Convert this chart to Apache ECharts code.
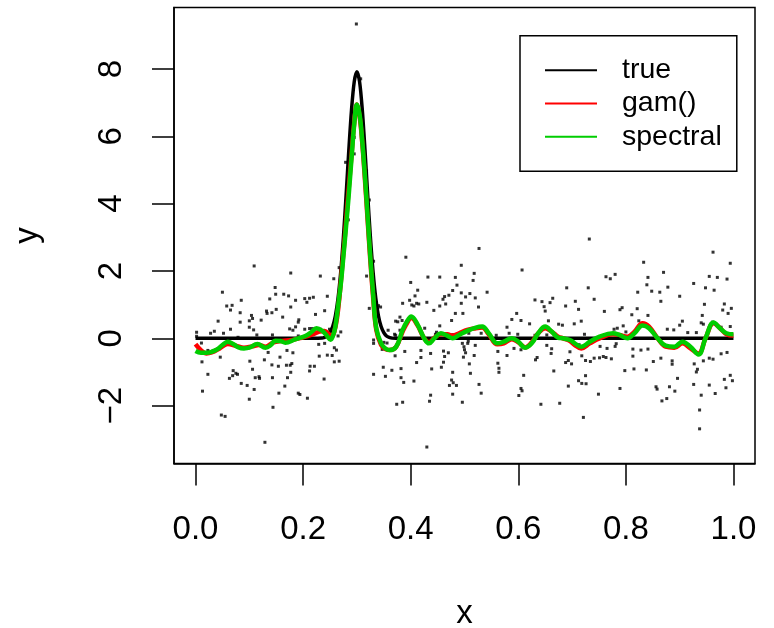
<!DOCTYPE html>
<html><head><meta charset="utf-8">
<script src="https://cdn.jsdelivr.net/npm/echarts@6/dist/echarts.min.js"></script>
<style>html,body{margin:0;padding:0;background:#fff}#c{width:774px;height:628px}</style>
</head><body><div id="c"></div>
<script>
const xTicks = [0, 0.2, 0.4, 0.6, 0.8, 1.0];
const yTicks = [-2, 0, 2, 4, 6, 8];
const seriesNames = ['true', 'gam()', 'spectral'];

const obsX = [
0.299,0.307,0.301,0.295,0.295,0.279,0.318,0.323,0.284,0.109,0.177,0.267,0.232,0.257,0.318,0.331,0.050,0.148,0.164,0.173,
0.058,0.068,0.065,0.085,0.138,0.149,0.203,0.212,0.219,0.207,0.245,0.186,0.177,0.083,0.132,0.142,0.150,0.133,0.104,0.106,
0.162,0.042,0.083,0.100,0.122,0.192,0.191,0.223,0.240,0.323,0.065,0.100,0.108,0.175,0.181,0.186,0.203,0.212,0.217,0.249,
0.232,0.028,0.035,0.052,0.002,0.114,0.079,0.143,0.191,0.270,0.265,0.002,0.011,0.229,0.240,0.331,0.331,0.023,0.046,0.135,
0.181,0.170,0.258,0.262,0.012,0.101,0.128,0.179,0.176,0.157,0.230,0.245,0.254,0.267,0.258,0.142,0.154,0.169,0.213,0.221,
0.106,0.070,0.075,0.078,0.069,0.212,0.023,0.177,0.063,0.111,0.118,0.119,0.143,0.171,0.239,0.085,0.096,0.166,0.109,0.013,
0.155,0.191,0.194,0.100,0.208,0.144,0.048,0.055,0.129,0.331,
0.391,0.527,0.494,0.607,0.518,0.432,0.454,0.483,0.400,0.516,0.486,0.413,0.408,0.398,0.402,0.406,0.411,0.415,0.478,0.471,
0.463,0.510,0.502,0.494,0.520,0.542,0.385,0.430,0.454,0.460,0.465,0.494,0.526,0.340,0.344,0.338,0.443,0.483,0.497,0.380,
0.384,0.372,0.376,0.476,0.597,0.588,0.605,0.621,0.631,0.644,0.648,0.659,0.664,0.650,0.656,0.675,0.682,0.690,0.688,0.358,
0.370,0.350,0.356,0.380,0.372,0.426,0.454,0.448,0.446,0.478,0.508,0.531,0.559,0.579,0.583,0.599,0.631,0.653,0.347,0.371,
0.389,0.419,0.437,0.461,0.470,0.463,0.496,0.499,0.500,0.502,0.506,0.507,0.520,0.498,0.518,0.592,0.605,0.562,0.579,0.653,
0.662,0.661,0.635,0.632,0.419,0.461,0.411,0.509,0.562,0.564,0.564,0.349,0.365,0.382,0.353,0.439,0.457,0.478,0.511,0.688,
0.666,0.382,0.387,0.406,0.476,0.479,0.472,0.485,0.610,0.527,0.605,0.607,0.601,0.531,0.478,0.437,0.435,0.385,0.374,0.496,
0.642,0.677,0.693,0.430,
0.732,0.962,0.833,0.994,0.870,0.763,0.771,0.780,0.841,0.955,0.970,0.988,0.839,0.926,0.730,0.878,0.948,0.964,0.822,0.848,
0.863,0.900,0.741,0.706,0.712,0.865,0.946,0.983,0.996,0.980,0.990,0.760,0.789,0.793,0.821,0.717,0.704,0.811,0.841,0.900,
0.905,0.942,0.940,0.944,0.877,0.889,0.915,0.931,0.961,0.977,0.994,0.778,0.784,0.795,0.800,0.824,0.723,0.713,0.752,0.765,
0.782,0.780,0.813,0.828,0.841,0.696,0.699,0.693,0.718,0.725,0.734,0.741,0.751,0.758,0.763,0.773,0.813,0.851,0.865,0.886,
0.886,0.927,0.933,0.931,0.944,0.955,0.962,0.977,0.988,0.798,0.815,0.838,0.725,0.712,0.718,0.726,0.749,0.789,0.856,0.858,
0.881,0.891,0.896,0.926,0.955,0.966,0.983,0.994,0.998,0.986,0.940,0.876,0.867,0.721,0.937,0.937
];
const obsY = [
9.34,7.71,7.88,5.97,5.48,5.23,4.97,4.11,3.52,2.15,1.94,2.10,1.85,1.77,1.85,2.29,1.37,1.51,1.31,1.26,
0.96,0.98,0.84,1.13,1.17,1.31,1.18,1.19,1.22,1.07,1.25,1.13,0.93,0.76,0.81,0.76,0.86,0.74,0.68,0.59,
0.63,0.51,0.48,0.52,0.54,0.55,0.48,0.71,0.82,0.89,0.27,0.33,0.25,0.28,0.24,0.34,0.27,0.29,0.29,0.27,
0.27,0.15,0.21,0.15,0.18,0.10,0.03,0.10,0.07,0.19,0.07,0.06,-0.14,-0.18,-0.15,-0.05,-0.15,-0.36,-0.56,-0.42,
-0.43,-0.36,-0.28,-0.35,-0.70,-0.68,-0.64,-0.75,-0.80,-0.56,-0.53,-0.50,-0.51,-0.68,-0.70,-0.79,-0.83,-0.80,-0.83,-0.83,
-0.92,-0.96,-1.04,-1.07,-1.11,-0.97,-1.07,-1.01,-1.19,-1.17,-1.14,-1.19,-1.17,-1.17,-1.21,-1.34,-1.40,-1.42,-1.52,-1.57,
-1.63,-1.63,-1.67,-1.81,-1.78,-2.05,-2.28,-2.32,-3.09,-1.07,
2.41,2.67,2.17,2.03,1.93,1.82,1.82,1.81,1.66,1.72,1.58,1.43,1.26,1.13,0.99,0.96,1.04,1.02,1.42,1.28,
1.24,1.33,1.23,1.35,1.20,1.37,1.04,1.07,0.96,1.16,1.02,1.04,0.93,0.97,0.93,0.89,0.83,0.74,0.74,0.63,
0.53,0.51,0.49,0.53,0.74,0.56,0.53,0.43,1.14,1.09,0.94,1.06,1.19,0.81,0.52,0.42,0.39,1.50,0.96,0.24,
0.12,-0.12,-0.14,0.24,0.09,0.30,0.37,0.18,0.12,0.11,0.15,0.15,0.09,0.33,0.15,0.12,0.09,0.10,-0.33,-0.52,
-0.39,-0.36,-0.45,-0.38,-0.43,-0.54,-0.15,-0.25,-0.34,-0.43,-0.15,-0.08,-0.21,-0.56,-0.51,-0.30,-0.34,-0.39,-0.51,-0.21,
-0.31,-0.45,-0.57,-0.64,-0.57,-0.71,-0.72,-0.76,-0.74,-0.89,-1.01,-0.86,-0.95,-0.90,-1.13,-0.91,-0.86,-1.01,-1.04,-0.72,
-0.97,-1.17,-1.31,-1.27,-1.24,-1.32,-1.40,-1.40,-1.10,-1.37,-1.49,-1.56,-1.70,-1.63,-1.66,-1.69,-1.87,-1.90,-1.96,-1.90,
-1.96,-1.93,-1.42,-3.23,
2.95,2.56,2.26,2.23,1.96,1.83,1.77,1.90,1.81,1.84,1.81,1.76,1.59,1.63,1.50,1.52,1.50,1.43,1.37,1.40,
1.37,1.25,1.16,1.10,0.86,1.10,1.01,1.02,0.89,0.84,0.74,0.80,0.85,0.91,0.88,0.51,0.43,0.70,0.68,0.39,
0.51,0.68,0.46,0.42,0.27,0.25,0.17,0.17,0.48,0.33,0.35,0.27,0.30,0.37,0.19,0.52,0.12,-0.19,-0.24,-0.30,
-0.16,-0.24,-0.32,-0.35,-0.32,-0.40,-0.76,-0.66,-0.52,-0.66,-0.69,-0.59,-0.58,-0.54,-0.57,-0.61,-0.53,-0.69,-0.59,-0.67,
-0.77,-0.76,-0.92,-1.00,-0.67,-0.59,-0.62,-0.46,-0.42,-0.96,-0.91,-0.94,-1.11,-1.26,-1.34,-1.35,-1.66,-1.49,-1.44,-1.51,
-1.44,-1.57,-1.19,-1.37,-1.39,-1.64,-1.22,-1.10,-1.26,-1.47,-1.69,-1.79,-1.86,-2.35,-2.13,-2.69
];

const trueX = [0, 0.1, 0.2, 0.235, 0.24, 0.245, 0.25, 0.255, 0.26, 0.265, 0.27, 0.275, 0.28, 0.285, 0.29, 0.295, 0.3,
  0.305, 0.31, 0.315, 0.32, 0.325, 0.33, 0.335, 0.34, 0.345, 0.35, 0.355, 0.36, 0.365, 0.4, 0.6, 0.8, 1.0];
const trueY = [0, 0, 0, 0.01, 0.03, 0.07, 0.17, 0.35, 0.67, 1.2, 1.98, 3.02, 4.27, 5.6, 6.79, 7.62, 7.92,
  7.62, 6.79, 5.6, 4.27, 3.02, 1.98, 1.2, 0.67, 0.35, 0.17, 0.07, 0.03, 0.01, 0, 0, 0, 0];

const gamX = [0, 0.01, 0.02, 0.03, 0.045, 0.06, 0.075, 0.09, 0.105, 0.118, 0.13, 0.145, 0.16, 0.18, 0.2, 0.215, 0.23, 0.24,
  0.248, 0.253, 0.258, 0.263, 0.268, 0.273, 0.278, 0.284, 0.29, 0.295, 0.3, 0.305, 0.31, 0.315, 0.32, 0.325, 0.33, 0.336,
  0.345, 0.353, 0.361, 0.373, 0.385, 0.393, 0.401, 0.413, 0.425, 0.434, 0.444, 0.456, 0.468, 0.478, 0.49, 0.505, 0.521,
  0.533, 0.545, 0.561, 0.573, 0.588, 0.6, 0.613, 0.625, 0.637, 0.65, 0.662, 0.674, 0.683, 0.696, 0.705, 0.717, 0.733,
  0.751, 0.776, 0.788, 0.803, 0.816, 0.831, 0.843, 0.859, 0.874, 0.89, 0.905, 0.92, 0.935, 0.948, 0.963, 0.975, 0.987, 1.0];
const gamY = [-0.17, -0.35, -0.45, -0.42, -0.3, -0.17, -0.22, -0.28, -0.24, -0.2, -0.25, -0.12, -0.08, -0.05, 0.03, 0.1, 0.2, 0.22,
  0.12, 0.05, 0.2, 0.6, 1.3, 2.2, 3.1, 4.3, 5.45, 6.4, 6.95, 6.6, 5.8, 4.7, 3.5, 2.3, 1.25, 0.25,
  -0.2, -0.32, -0.35, -0.25, 0.2, 0.45, 0.6, 0.38, 0.0, -0.12, 0.02, 0.12, 0.12, 0.08, 0.15, 0.25, 0.3,
  0.32, 0.12, -0.18, -0.15, -0.03, -0.12, -0.27, -0.12, 0.15, 0.3, 0.2, 0.05, 0.0, -0.08, -0.2, -0.3, -0.15,
  0.0, 0.12, 0.1, 0.05, 0.2, 0.45, 0.35, 0.0, -0.25, -0.28, -0.15, -0.3, -0.45, 0.0, 0.45, 0.3, 0.12, 0.08];

const specX = [0, 0.01, 0.02, 0.03, 0.04, 0.05, 0.06, 0.07, 0.08, 0.09, 0.1, 0.115, 0.13, 0.14, 0.148, 0.158, 0.167, 0.185,
  0.204, 0.215, 0.225, 0.235, 0.243, 0.251, 0.256, 0.26, 0.265, 0.27, 0.275, 0.28, 0.285, 0.29, 0.295, 0.3, 0.305, 0.31,
  0.315, 0.32, 0.325, 0.33, 0.336, 0.345, 0.353, 0.361, 0.373, 0.385, 0.393, 0.401, 0.413, 0.425, 0.434, 0.444, 0.456,
  0.468, 0.478, 0.49, 0.505, 0.521, 0.533, 0.545, 0.561, 0.573, 0.588, 0.6, 0.613, 0.625, 0.637, 0.65, 0.662, 0.674,
  0.683, 0.696, 0.705, 0.717, 0.733, 0.751, 0.776, 0.788, 0.803, 0.816, 0.831, 0.843, 0.859, 0.874, 0.89, 0.905, 0.92,
  0.935, 0.948, 0.963, 0.975, 0.987, 1.0];
const specY = [-0.38, -0.43, -0.43, -0.4, -0.33, -0.2, -0.1, -0.17, -0.27, -0.3, -0.28, -0.17, -0.28, -0.2, -0.07, -0.08, -0.13, -0.03,
  0.07, 0.18, 0.3, 0.23, 0.1, -0.04, 0.1, 0.35, 0.95, 1.6, 2.45, 3.35, 4.3, 5.35, 6.35, 6.95, 6.65, 5.85,
  4.8, 3.6, 2.4, 1.35, 0.3, -0.15, -0.3, -0.35, -0.25, 0.25, 0.5, 0.65, 0.4, 0.0, -0.15, 0.0, 0.15,
  0.08, 0.0, 0.1, 0.22, 0.32, 0.35, 0.15, -0.15, -0.1, 0.0, -0.1, -0.28, -0.15, 0.15, 0.35, 0.2, 0.02,
  0.0, -0.05, -0.15, -0.25, -0.1, 0.05, 0.15, 0.1, 0.0, 0.15, 0.38, 0.3, 0.0, -0.22, -0.25, -0.1, -0.25,
  -0.48, 0.0, 0.47, 0.3, 0.15, 0.12];

const zip = (a, b) => a.map((v, i) => [v, b[i]]);
const FONT = '"Liberation Sans", Arial, Helvetica, sans-serif';
const fmtY = v => (v < 0 ? '\u2212' + Math.abs(v) : String(v));

const chart = echarts.init(document.getElementById('c'), null, {renderer: 'canvas'});
chart.setOption({
  animation: false,
  backgroundColor: '#fff',
  textStyle: {fontFamily: FONT},
  grid: {left: 174, top: 7.5, right: 19, bottom: 164.5, containLabel: false, outerBoundsMode: 'none',
         show: true, borderColor: '#000', borderWidth: 1.5, backgroundColor: 'transparent'},
  xAxis: {
    type: 'value', min: -0.04, max: 1.04,
    axisLine: {show: true, onZero: false, lineStyle: {color: '#000', width: 1.5}},
    splitLine: {show: false},
    axisTick: {show: true, customValues: xTicks, length: 22, inside: false, lineStyle: {color: '#000', width: 1.5}},
    axisLabel: {customValues: xTicks, formatter: v => v.toFixed(1), fontSize: 33, color: '#000', margin: 50, fontFamily: FONT},
    name: 'x', nameLocation: 'middle', nameGap: 134,
    nameTextStyle: {fontSize: 33, color: '#000', fontFamily: FONT}
  },
  yAxis: {
    type: 'value', min: -3.72, max: 9.83,
    axisLine: {show: true, onZero: false, lineStyle: {color: '#000', width: 1.5}},
    splitLine: {show: false},
    axisTick: {show: true, customValues: yTicks, length: 22, inside: false, lineStyle: {color: '#000', width: 1.5}},
    axisLabel: {customValues: yTicks, formatter: fmtY, rotate: 90, fontSize: 33, color: '#000', margin: 46, fontFamily: FONT},
    name: 'y', nameLocation: 'middle', nameGap: 130, nameRotate: 90,
    nameTextStyle: {fontSize: 33, color: '#000', fontFamily: FONT}
  },
  legend: {
    data: seriesNames,
    orient: 'vertical', left: 520, top: 35.7,
    icon: 'rect',
    itemWidth: 52, itemHeight: 2, itemGap: 4.3,
    padding: [20, 15, 20, 25],
    borderColor: '#000', borderWidth: 1.5, backgroundColor: '#fff',
    textStyle: {fontSize: 28.5, color: '#000', fontFamily: FONT, padding: [0, 0, 0, 20], lineHeight: 29},
    selectedMode: false
  },
  series: [
    {type: 'scatter', name: 'obs', data: zip(obsX, obsY), symbol: 'rect', symbolSize: 3,
     itemStyle: {color: '#000'}, z: 1},
    {type: 'line', name: seriesNames[0], data: zip(trueX, trueY), smooth: 0.3, symbol: 'none',
     lineStyle: {color: '#000', width: 3.5}, itemStyle: {color: '#000'}, z: 2},
    {type: 'line', name: seriesNames[1], data: zip(gamX, gamY), smooth: 0.4, symbol: 'none',
     lineStyle: {color: '#FF0000', width: 4.5}, itemStyle: {color: '#FF0000'}, z: 3},
    {type: 'line', name: seriesNames[2], data: zip(specX, specY), smooth: 0.4, symbol: 'none',
     lineStyle: {color: '#00CD00', width: 4.5}, itemStyle: {color: '#00CD00'}, z: 4}
  ]
});
</script>
</body></html>
